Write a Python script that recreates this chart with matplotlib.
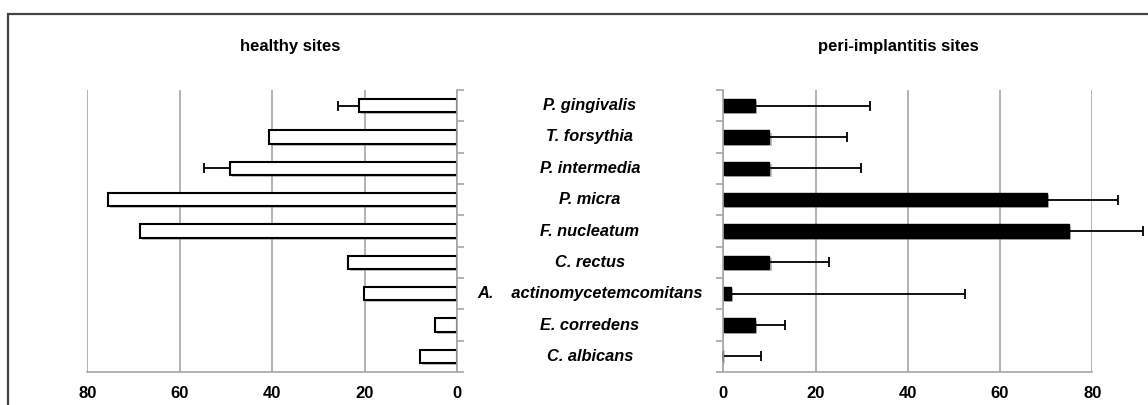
import numpy as np
import matplotlib
matplotlib.use('Agg')
import matplotlib.pyplot as plt
import matplotlib.patheffects as pe
from matplotlib.patches import Rectangle
from matplotlib.transforms import blended_transform_factory

plt.rcParams['font.family'] = ['Liberation Sans', 'DejaVu Sans']

species = ['P. gingivalis', 'T. forsythia', 'P. intermedia', 'P. micra',
           'F. nucleatum', 'C. rectus', 'A.    actinomycetemcomitans',
           'E. corredens', 'C. albicans']

# healthy sites (%)
healthy = [21.2, 40.7, 49.1, 75.5, 68.6, 23.6, 20.1, 4.8, 8.1]
healthy_err = [4.7, 0, 5.7, 0, 0, 0, 0, 0, 0]

# peri-implantitis sites (%)
peri = [6.9, 10.0, 10.0, 70.1, 75.0, 10.0, 1.7, 6.9, 0.0]
peri_err = [24.8, 16.9, 19.9, 15.5, 16.1, 13.0, 50.7, 6.5, 8.2]

xticks = [0, 20, 40, 60, 80]

fig = plt.figure(figsize=(11.48, 4.05), dpi=100)
W, H = 1148.0, 405.0

ax_l = fig.add_axes([87.3 / W, 1 - 372 / H, 370 / W, 282 / H])
ax_r = fig.add_axes([723.3 / W, 1 - 372 / H, 369 / W, 282 / H])

y = np.arange(len(species))
shadow = [pe.SimplePatchShadow(offset=(1.5, -1.5), shadow_rgbFace='#777777', alpha=0.45), pe.Normal()]
grid_col = '#a6a6a6'


def style_axis(ax, side):
    ax.set_xlim(0, 80)
    ax.set_ylim(len(species) - 0.5, -0.5)
    ax.set_xticks(xticks)
    ax.set_xticklabels([str(t) for t in xticks], fontsize=12, fontweight='bold')
    ax.tick_params(axis='x', length=0, pad=10)
    ax.set_yticks(np.arange(-0.5, len(species), 1))
    ax.set_yticklabels([])
    ax.tick_params(axis='y', length=5, color=grid_col, width=1.2)
    if side == 'right':
        ax.yaxis.tick_right()
    for s in ax.spines.values():
        s.set_visible(False)
    ax.spines['bottom'].set_visible(True)
    ax.spines['bottom'].set_color(grid_col)
    ax.spines['bottom'].set_linewidth(1.2)
    ax.spines[side].set_visible(True)
    ax.spines[side].set_color(grid_col)
    ax.spines[side].set_linewidth(1.2)
    ax.grid(axis='x', color=grid_col, linewidth=1.2)
    ax.set_axisbelow(True)


# healthy sites, drawn from 0 towards the left
bars_l = ax_l.barh(y, healthy, height=0.42, color='white', edgecolor='black', linewidth=1.5)
for b in bars_l:
    b.set_path_effects(shadow)
for i in range(len(species)):
    if healthy_err[i] > 0:
        ax_l.errorbar(healthy[i], y[i], xerr=[[0], [healthy_err[i]]], fmt='none',
                      ecolor='black', elinewidth=1.3, capsize=3.5, capthick=1.3)
style_axis(ax_l, 'right')
ax_l.invert_xaxis()

# peri-implantitis sites
bars_r = ax_r.barh(y, peri, height=0.42, color='black', edgecolor='black', linewidth=1.0)
for b in bars_r:
    b.set_path_effects(shadow)
ax_r.errorbar(peri, y, xerr=[np.zeros(len(peri)), peri_err], fmt='none',
              ecolor='black', elinewidth=1.3, capsize=3.5, capthick=1.3, clip_on=False)
ax_r.errorbar([0], [y[-1]], xerr=[[0], [0]], fmt='none', ecolor='black',
              capsize=3.5, capthick=1.3, clip_on=False)
style_axis(ax_r, 'left')

# species names in the middle
trans = blended_transform_factory(fig.transFigure, ax_r.transData)
for i, name in enumerate(species):
    fig.text(590 / W, y[i], name, transform=trans, ha='center', va='center',
             fontsize=11.8, fontweight='bold', fontstyle='italic')

fig.text(290 / W, 1 - 46 / H, 'healthy sites', ha='center', va='center',
         fontsize=12, fontweight='bold')
fig.text(898 / W, 1 - 46 / H, 'peri-implantitis sites', ha='center', va='center',
         fontsize=12, fontweight='bold')

# outer frame
fig.add_artist(Rectangle((8 / W, -0.1), 1.2, 1.1 - 14 / H, transform=fig.transFigure,
                         fill=False, edgecolor='#444444', linewidth=1.6))

fig.savefig('out.png', dpi=100)
